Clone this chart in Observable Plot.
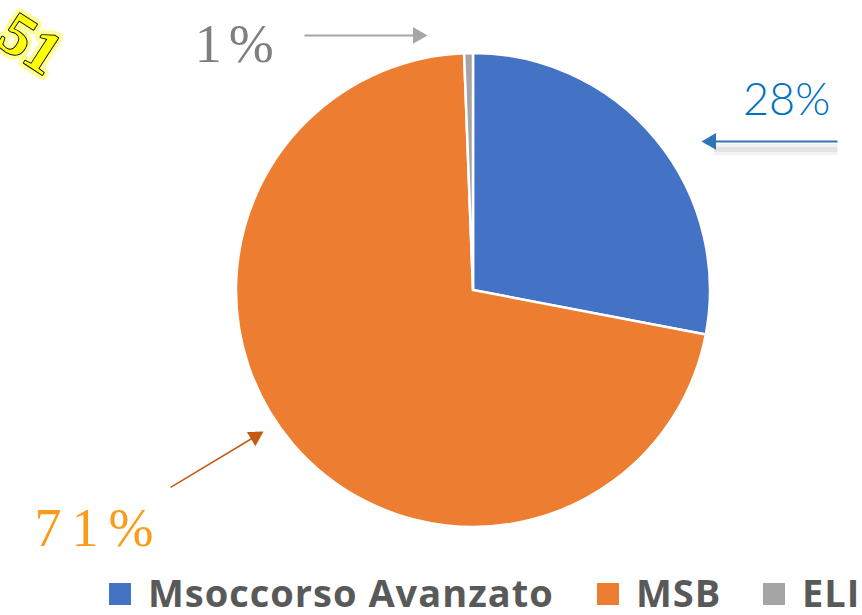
<!DOCTYPE html>
<html>
<head>
<meta charset="utf-8">
<script src="https://cdn.jsdelivr.net/npm/d3@7"></script>
<script src="https://cdn.jsdelivr.net/npm/@observablehq/plot@0.6"></script>
<style>
  html, body { margin: 0; padding: 0; background: #fff; }
  #chart { width: 862px; }
  #legend { position: relative; height: 45px; width: 862px; font-family: "Open Sans", sans-serif; font-weight: 700; font-size: 38px; color: #595959; letter-spacing: 1px; }
  #legend .item { position: absolute; top: 0; height: 44px; display: flex; align-items: center; white-space: nowrap; }
  #legend .sw { width: 22px; height: 22px; margin-right: 17px; margin-top: 4px; }
  #legend .lb { line-height: 44px; }
</style>
</head>
<body>
<div id="chart"></div>
<div id="legend"></div>
<script>
// ---- data ----
const categories = ["Msoccorso Avanzato", "MSB", "ELI"];
const values = [28, 71.4, 0.6];
const pctLabels = ["28%", "71%", "1%"];
const sliceColors = ["#4472c4", "#ed7d31", "#a5a5a5"];
const cornerMark = ["51"];

// ---- layout (pie centre and radius in pixels, everything else in radius units) ----
const W = 862, H = 570, CX = 473, CY = 290, R = 237;
const xDomain = [-CX / R, (W - CX) / R];
const yDomain = [-(H - CY) / R, CY / R];

const table = categories.map((c, i) => ({category: c, value: values[i], label: pctLabels[i], color: sliceColors[i]}));

// label annotations (radius units, y up)
const labelPos = [
  {label: pctLabels[0], x: 1.321, y: 0.80, fill: "#0070c0", font: "Lato, 'Open Sans', sans-serif", size: 45, weight: 300, spacing: 0},
  {label: pctLabels[1], x: -1.58, y: -1.005, fill: "#f99c1c", font: "'Liberation Serif', serif", size: 54, weight: 400, spacing: 10},
  {label: pctLabels[2], x: -0.995, y: 1.035, fill: "#7f7f7f", font: "'Liberation Serif', serif", size: 54, weight: 400, spacing: 7}
];

// arrows (radius units, y up): from (x1,y1) to tip (x2,y2)
const arrows = [
  {x1: -0.713, y1: 1.076, x2: -0.194, y2: 1.076, stroke: "#a6a6a6", w: 2},
  {x1: 1.536, y1: 0.629, x2: 0.962, y2: 0.629, stroke: "#2e75b6", w: 2},
  {x1: -1.278, y1: -0.831, x2: -0.886, y2: -0.595, stroke: "#c55a11", w: 1.5}
];
const headR = 8;
const headS = Math.sqrt(headR * headR * Math.PI) * 0.6824; // tip distance from symbol centre (px)
arrows.forEach(a => {
  const dxp = (a.x2 - a.x1), dyp = -(a.y2 - a.y1);
  const len = Math.hypot(dxp, dyp);
  a.ux = dxp / len; a.uy = dyp / len;
  a.rot = Math.atan2(a.ux, -a.uy) * 180 / Math.PI;
  a.hx = a.x2 - (headS / R) * a.ux;
  a.hy = a.y2 + (headS / R) * a.uy;
  a.bx = a.x2 - (1.3 * headS / R) * a.ux;
  a.by = a.y2 + (1.3 * headS / R) * a.uy;
});

// custom pie mark drawn through Plot's x/y scales
function pieMark(data) {
  return (index, scales) => {
    const cx = scales.x(0), cy = scales.y(0);
    const r = scales.x(1) - scales.x(0);
    const arcs = d3.pie().sort(null).value(d => d.value)(data);
    const arc = d3.arc().innerRadius(0).outerRadius(r);
    const g = d3.create("svg:g").attr("transform", `translate(${cx},${cy})`);
    g.selectAll("path").data(arcs).join("path")
      .attr("d", arc)
      .attr("fill", d => d.data.color)
      .attr("stroke", "#fff")
      .attr("stroke-width", 2.5)
      .attr("stroke-linejoin", "miter");
    return g.node();
  };
}

const marks = [
  pieMark(table),
  // soft shadow under the blue arrow
  Plot.link([arrows[1]], {x1: "x1", y1: "y1", x2: "bx", y2: "by", stroke: "#000", strokeOpacity: 0.05, strokeWidth: 11, dy: 8}),
  Plot.link([arrows[1]], {x1: "x1", y1: "y1", x2: "bx", y2: "by", stroke: "#000", strokeOpacity: 0.06, strokeWidth: 5, dy: 8}),
  Plot.link(arrows, {x1: "x1", y1: "y1", x2: "bx", y2: "by", stroke: "stroke", strokeWidth: "w"}),
];
arrows.forEach(a => {
  marks.push(Plot.dot([a], {x: "hx", y: "hy", symbol: "triangle2", r: headR, fill: a.stroke, stroke: "none", rotate: a.rot}));
});
labelPos.forEach(l => {
  marks.push(Plot.text([l], {x: "x", y: "y", text: "label", fill: l.fill, fontSize: l.size, fontFamily: l.font, fontWeight: l.weight, textAnchor: "middle", lineAnchor: "middle"}));
});
// yellow outlined fragment at the top-left corner
const corner = [{t: cornerMark[0], x: -1.87, y: 1.04}];
marks.push(Plot.text(corner, {x: "x", y: "y", text: "t", fontSize: 60, fontFamily: "'Liberation Serif', serif", fontWeight: 700, fill: "#ffff00", stroke: "#ffff00", strokeWidth: 10, strokeOpacity: 0.4, rotate: 33, textAnchor: "middle", lineAnchor: "middle"}));
marks.push(Plot.text(corner, {x: "x", y: "y", text: "t", fontSize: 60, fontFamily: "'Liberation Serif', serif", fontWeight: 700, fill: "#ffff00", stroke: "#000", strokeWidth: 1.8, paintOrder: "stroke", rotate: 33, textAnchor: "middle", lineAnchor: "middle"}));

const chart = Plot.plot({
  width: W, height: H,
  margin: 0,
  x: {domain: xDomain, axis: null},
  y: {domain: yDomain, axis: null},
  style: {background: "#fff", overflow: "visible"},
  marks
});
// letter spacing for the serif percentage labels
d3.select(chart).selectAll("text").each(function() {
  const t = this.textContent;
  const l = labelPos.find(p => p.label === t);
  if (l && l.spacing) d3.select(this).style("letter-spacing", l.spacing + "px");
});
document.getElementById("chart").appendChild(chart);

// legend
const legendX = [109, 597, 763];
const legend = d3.select("#legend");
categories.forEach((c, i) => {
  const it = legend.append("div").attr("class", "item").style("left", legendX[i] + "px");
  it.append("div").attr("class", "sw").style("background", sliceColors[i]);
  it.append("span").attr("class", "lb").text(c);
});
</script>
</body>
</html>
